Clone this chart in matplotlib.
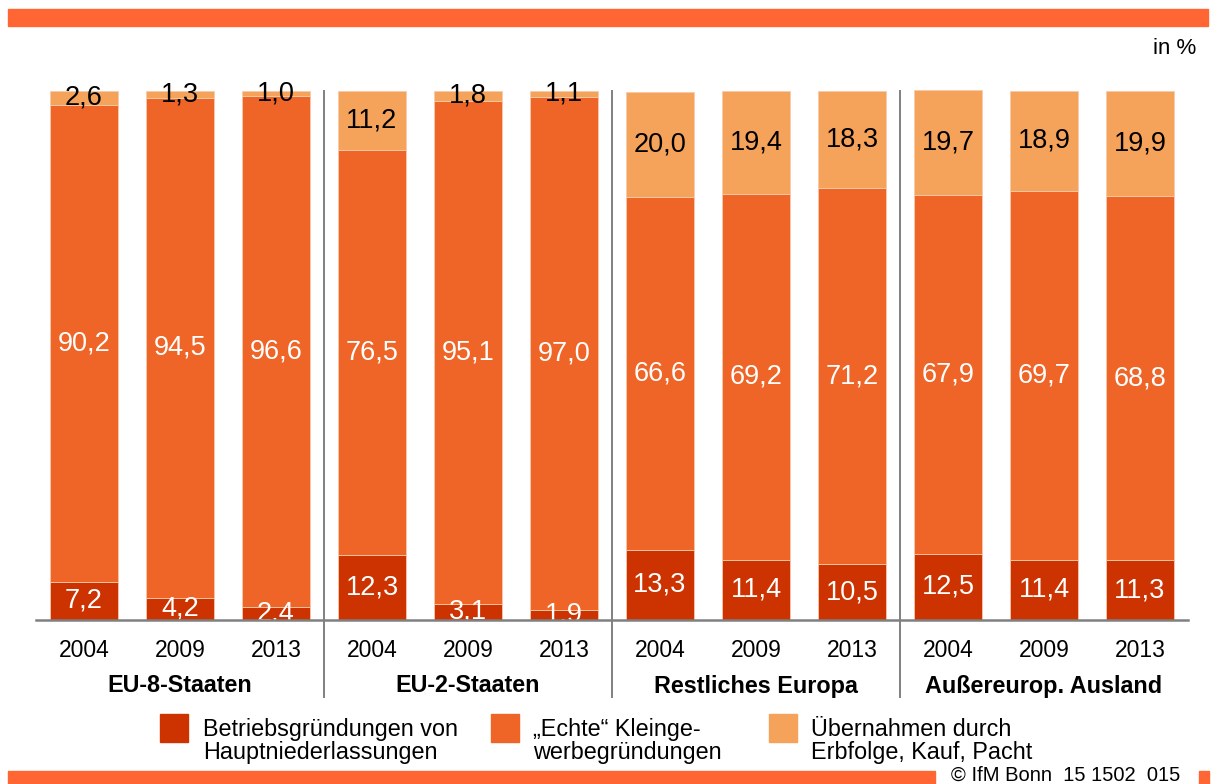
import matplotlib
matplotlib.use("Agg")
import matplotlib.pyplot as plt
from matplotlib.patches import Rectangle
import numpy as np

plt.rcParams['font.family'] = ['Liberation Sans', 'DejaVu Sans']

# --- data -------------------------------------------------------------
groups = ["EU-8-Staaten", "EU-2-Staaten", "Restliches Europa", "Außereurop. Ausland"]
years = ["2004", "2009", "2013"]
betrieb = [7.2, 4.2, 2.4, 12.3, 3.1, 1.9, 13.3, 11.4, 10.5, 12.5, 11.4, 11.3]
echte = [90.2, 94.5, 96.6, 76.5, 95.1, 97.0, 66.6, 69.2, 71.2, 67.9, 69.7, 68.8]
uebernahme = [2.6, 1.3, 1.0, 11.2, 1.8, 1.1, 20.0, 19.4, 18.3, 19.7, 18.9, 19.9]
legend_labels = ["Betriebsgründungen von\nHauptniederlassungen",
                 "„Echte“ Kleinge-\nwerbegründungen",
                 "Übernahmen durch\nErbfolge, Kauf, Pacht"]
colors = ["#CC3300", "#EF6528", "#F5A25A"]
text_colors = ["white", "white", "black"]
banner = "#FF6633"

W, H = 1212, 784
fig = plt.figure(figsize=(W / 100, H / 100), dpi=100)


def px(x0, y0, x1, y1):
    """figure fraction rect from pixel box (top-left origin)"""
    return [x0 / W, 1 - y1 / H, (x1 - x0) / W, (y1 - y0) / H]


# axes: y=0 at px 620, y=100 at px 91, leave room above 100
ymax = 104
ppu = (620 - 91) / 100
ax = fig.add_axes(px(36, 620 - ymax * ppu, 1188, 620))
ax.set_xlim(-0.5, 11.5)
ax.set_ylim(0, ymax)

x = np.arange(len(betrieb))
series = [betrieb, echte, uebernahme]
bottom = np.zeros(len(x))
for vals, col, tcol in zip(series, colors, text_colors):
    vals = np.asarray(vals)
    ax.bar(x, vals, bottom=bottom, width=0.708, color=col,
           edgecolor="#F7C9A8", linewidth=0.6, zorder=2)
    for xi, b, v in zip(x, bottom, vals):
        ax.text(xi, b + v / 2, f"{v:.1f}".replace(".", ","), ha="center",
                va="center", fontsize=19.5, color=tcol, zorder=3)
    bottom += vals

for s in ["top", "right", "left"]:
    ax.spines[s].set_visible(False)
ax.spines["bottom"].set_color("#808080")
ax.spines["bottom"].set_linewidth(1.8)
ax.spines["bottom"].set_zorder(4)
ax.set_yticks([])
ax.set_xticks(x)
ax.set_xticklabels(years * len(groups), fontsize=16.5)
ax.tick_params(axis="x", length=0, pad=14)

# group separators and names
sep_bottom = -(697 - 620) / ppu
for i in range(1, len(groups)):
    ax.plot([3 * i - 0.5] * 2, [sep_bottom, 100], color="#808080",
            linewidth=1.4, clip_on=False, zorder=4)
for i, g in enumerate(groups):
    ax.text(3 * i + 1, -(686 - 620) / ppu, g, ha="center", va="center",
            fontsize=16.8, fontweight="bold", clip_on=False)

# banners
fig.patches.append(Rectangle((8 / W, 1 - 26 / H), 1200 / W, 17 / H,
                             transform=fig.transFigure, color=banner))
fig.patches.append(Rectangle((8 / W, 0), 927 / W, 13 / H,
                             transform=fig.transFigure, color=banner))
fig.patches.append(Rectangle((1199 / W, 0), 10 / W, 13 / H,
                             transform=fig.transFigure, color=banner))
fig.text(951 / W, 1 - 781 / H, "© IfM Bonn  15 1502  015", fontsize=14.5,
         va="baseline", ha="left")
fig.text(1196 / W, 1 - 49 / H, "in %", fontsize=16, ha="right", va="center")

# legend
for (sx, tx), col, lab in zip([(160, 203), (491, 533), (769, 811)], colors, legend_labels):
    fig.patches.append(Rectangle((sx / W, 1 - 742 / H), 28 / W, 28 / H,
                                 transform=fig.transFigure, color=col))
    fig.text(tx / W, 1 - 741 / H, lab, fontsize=16.8, ha="left", va="center",
             linespacing=1.0)

fig.savefig("out.png", dpi=100)
